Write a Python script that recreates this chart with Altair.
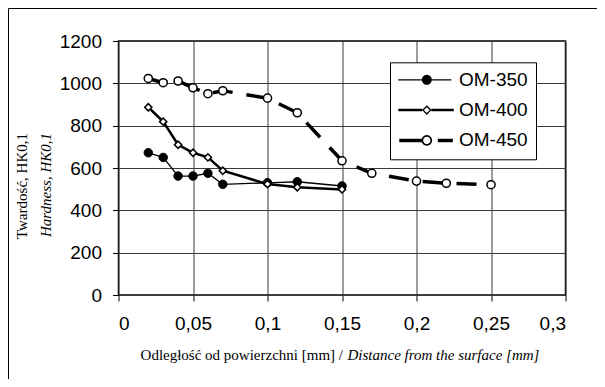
import math
import altair as alt
import pandas as pd

# ---------------- data ----------------
series = ["OM-350", "OM-400", "OM-450"]

x_350 = [0.02, 0.03, 0.04, 0.05, 0.06, 0.07, 0.10, 0.12, 0.15]
y_350 = [672, 650, 562, 562, 575, 523, 530, 535, 515]

x_400 = [0.02, 0.03, 0.04, 0.05, 0.06, 0.07, 0.10, 0.12, 0.15]
y_400 = [887, 819, 710, 672, 650, 587, 524, 509, 499]

x_450 = [0.02, 0.03, 0.04, 0.05, 0.06, 0.07, 0.10, 0.12, 0.15, 0.17, 0.20, 0.22, 0.25]
y_450 = [1023, 1003, 1011, 979, 951, 965, 930, 861, 634, 575, 538, 528, 521]

x_tick_values = [0, 0.05, 0.1, 0.15, 0.2, 0.25, 0.3]
x_tick_labels = ["0", "0,05", "0,1", "0,15", "0,2", "0,25", "0,3"]
y_tick_values = [0, 200, 400, 600, 800, 1000, 1200]

x_title_pl = "Odległość od powierzchni [mm] /"
x_title_en = "Distance from the surface [mm]"
y_title_pl = "Twardość, HK0,1"
y_title_en = "Hardness, HK0,1"

# ---------------- table ----------------
rows = []
for name, xs, ys in zip(series, [x_350, x_400, x_450], [y_350, y_400, y_450]):
    for xv, yv in zip(xs, ys):
        rows.append({"x": xv, "y": yv, "series": name})
df = pd.DataFrame(rows)

W, H = 447, 254
PAD = {"left": 110.5, "top": 33, "right": 31.5, "bottom": 84}

label_expr = " : ".join(
    f"datum.value == {v} ? '{l}'" for v, l in zip(x_tick_values, x_tick_labels)
) + " : datum.label"

x_enc = alt.X(
    "x:Q",
    scale=alt.Scale(domain=[0, 0.3], nice=False),
    axis=alt.Axis(values=x_tick_values, labelExpr=label_expr, title=None,
                  labelPadding=13),
)
y_enc = alt.Y(
    "y:Q",
    scale=alt.Scale(domain=[0, 1200], nice=False),
    axis=alt.Axis(values=y_tick_values, title=None, labelPadding=11, format="d"),
)

base = alt.Chart(df).encode(x=x_enc, y=y_enc)

def sel(name):
    return base.transform_filter(alt.datum.series == name)

line350 = sel("OM-350").mark_line(color="black", strokeWidth=1.3)
pts350 = sel("OM-350").mark_point(shape="circle", filled=True, fill="black",
                                  stroke="black", strokeWidth=1, size=72, opacity=1)
line400 = sel("OM-400").mark_line(color="black", strokeWidth=2.5)
pts400 = sel("OM-400").mark_point(shape="diamond", filled=True, fill="white",
                                  stroke="black", strokeWidth=1.5, size=52, opacity=1)
line450 = sel("OM-450").mark_line(color="black", strokeWidth=3.5,
                                  strokeDash=[20, 14], strokeCap="butt")
pts450 = sel("OM-450").mark_point(shape="circle", filled=True, fill="white",
                                  stroke="black", strokeWidth=1.5, size=66, opacity=1)

# ---------------- legend symbols (custom paths, px / U units) ----------------
U = 9.5  # px per path unit (symbol size = (2U)^2)

def p(v):
    return round(v / U, 4)

def rect(x0, x1, half):
    return f"M{p(x0)},{p(-half)}L{p(x1)},{p(-half)}L{p(x1)},{p(half)}L{p(x0)},{p(half)}Z"

def ngon(cx, r, n=24, reverse=False):
    pts = []
    for i in range(n):
        a = 2 * math.pi * i / n
        if reverse:
            a = -a
        pts.append((cx + r * math.cos(a), r * math.sin(a)))
    return "M" + "L".join(f"{p(px)},{p(py)}" for px, py in pts) + "Z"

L, R = -28.0, 27.5
mc = 0.5
sym350 = rect(L, R - 2.5, 0.65) + ngon(mc, 5.0)
sym400 = (rect(L, mc - 4.6, 1.25) + rect(mc + 4.6, R, 1.25)
          + ngon(mc, 4.8, n=4) + ngon(mc, 2.9, n=4, reverse=True))
sym450 = (rect(L + 1, mc - 5.0, 1.75) + rect(mc + 11.0, R - 1, 1.75)
          + ngon(mc, 5.3) + ngon(mc, 3.6, reverse=True))

legend_layer = alt.Chart(df).mark_point(filled=True, color="black", strokeWidth=0,
                                        opacity=1).encode(
    shape=alt.Shape(
        "series:N",
        scale=alt.Scale(domain=series, range=[sym350, sym400, sym450]),
        legend=alt.Legend(
            title=None, orient="none", legendX=271.5, legendY=21.3,
            padding=8, strokeColor="black", fillColor="white",
            labelFont="Liberation Sans", labelFontSize=19, labelColor="black",
            symbolSize=(2 * U) ** 2, symbolStrokeWidth=0, symbolFillColor="black",
            symbolOpacity=1, symbolOffset=18.8, labelOffset=23.2, rowPadding=10.3,
        ),
    )
).transform_filter("false")

# ---------------- titles ----------------
serif = "Liberation Serif"
t_xpl = alt.Chart(pd.DataFrame({"t": [x_title_pl]})).mark_text(
    font=serif, fontSize=15, align="right", baseline="alphabetic", color="black"
).encode(x=alt.value(224.5), y=alt.value(319), text="t:N")
t_xen = alt.Chart(pd.DataFrame({"t": [x_title_en]})).mark_text(
    font=serif, fontSize=15, fontStyle="italic", align="left",
    baseline="alphabetic", color="black"
).encode(x=alt.value(229), y=alt.value(319), text="t:N")
t_ypl = alt.Chart(pd.DataFrame({"t": [y_title_pl]})).mark_text(
    font=serif, fontSize=15, align="center", baseline="alphabetic", angle=270,
    color="black"
).encode(x=alt.value(-91.5), y=alt.value(145), text="t:N")
t_yen = alt.Chart(pd.DataFrame({"t": [y_title_en]})).mark_text(
    font=serif, fontSize=15, fontStyle="italic", align="center",
    baseline="alphabetic", angle=270, color="black"
).encode(x=alt.value(-67.5), y=alt.value(144), text="t:N")

frame = alt.Chart(pd.DataFrame({"k": [1]})).mark_rect(
    fillOpacity=0, stroke="black", strokeWidth=1
).encode(x=alt.value(-110), x2=alt.value(560), y=alt.value(-32.5), y2=alt.value(420))

chart = alt.layer(
    frame, line350, pts350, line400, pts400, line450, pts450, legend_layer,
    t_xpl, t_xen, t_ypl, t_yen,
).properties(
    width=W, height=H,
    autosize=alt.AutoSizeParams(type="none"),
    padding=PAD,
    background="white",
).configure_view(
    stroke="black", strokeWidth=1.5
).configure_axis(
    labelFont="Liberation Sans", labelFontSize=19, labelColor="black",
    tickColor="black", tickSize=6, tickWidth=1,
    domain=False, grid=True, gridColor="#3a3a3a", gridWidth=1, gridOpacity=1,
)

chart.save("out.html", embed_options={"renderer": "svg", "actions": False})
